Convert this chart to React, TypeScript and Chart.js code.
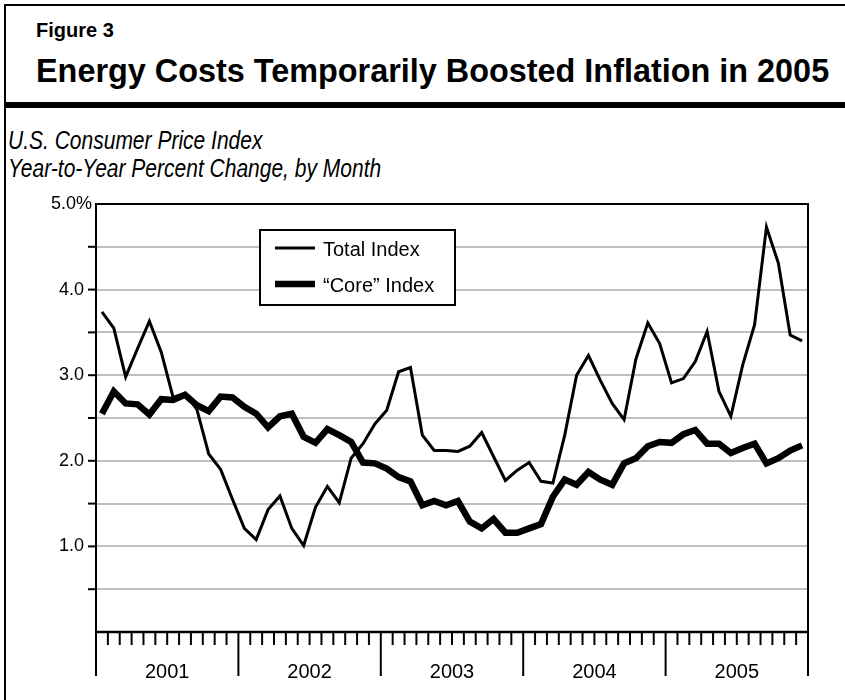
import React, { useEffect, useRef } from "react";
import { Chart, registerables } from "chart.js";

Chart.register(...registerables);

const years = ["2001", "2002", "2003", "2004", "2005"];
const monthNames = ["Jan", "Feb", "Mar", "Apr", "May", "Jun", "Jul", "Aug", "Sep", "Oct", "Nov", "Dec"];
const categories = years.flatMap((yr) => monthNames.map((m) => `${m} ${yr}`));

const totalIndex = [
  3.74, 3.55, 2.98, 3.31, 3.63, 3.27, 2.74, 2.79, 2.6, 2.08, 1.9, 1.55,
  1.21, 1.08, 1.43, 1.59, 1.21, 1.01, 1.46, 1.7, 1.51, 2.03, 2.2, 2.43,
  2.59, 3.04, 3.09, 2.3, 2.12, 2.12, 2.11, 2.17, 2.33, 2.05, 1.77, 1.89,
  1.98, 1.76, 1.74, 2.3, 3.0, 3.23, 2.94, 2.67, 2.48, 3.19, 3.61, 3.37,
  2.91, 2.96, 3.16, 3.51, 2.81, 2.52, 3.12, 3.59, 4.73, 4.31, 3.47, 3.4,
];

const coreIndex = [
  2.55, 2.81, 2.67, 2.66, 2.54, 2.72, 2.71, 2.77, 2.65, 2.58, 2.75, 2.74,
  2.63, 2.55, 2.39, 2.52, 2.55, 2.28, 2.21, 2.37, 2.3, 2.22, 1.98, 1.97,
  1.91, 1.81, 1.76, 1.48, 1.53, 1.48, 1.53, 1.29, 1.21, 1.32, 1.16, 1.16,
  1.21, 1.26, 1.58, 1.78, 1.72, 1.87, 1.78, 1.72, 1.97, 2.03, 2.17, 2.22,
  2.21, 2.31, 2.36, 2.2, 2.2, 2.09, 2.15, 2.2, 1.97, 2.03, 2.12, 2.18,
];

const yTickValues = [0.5, 1, 1.5, 2, 2.5, 3, 3.5, 4, 4.5];
const yLabelValues = [1, 2, 3, 4, 5];
const yLabelTexts = ["1.0", "2.0", "3.0", "4.0", "5.0%"];
const seriesLabels = ["Total Index", "\u201cCore\u201d Index"];

const FONT = "'Liberation Sans', Arial, Helvetica, sans-serif";
const CANVAS_TOP = 190;

const decorPlugin = {
  id: "decor",
  afterDraw(chart: any) {
    const { ctx, chartArea: a, scales } = chart;
    const x = scales.x;
    const y = scales.y;
    const longTick = 44;
    const shortTick = 13;
    ctx.save();
    ctx.strokeStyle = "#000";
    ctx.fillStyle = "#000";
    ctx.lineWidth = 2;
    ctx.lineCap = "butt";

    // plot frame
    ctx.beginPath();
    ctx.moveTo(a.left, a.bottom + longTick);
    ctx.lineTo(a.left, a.top);
    ctx.lineTo(a.right, a.top);
    ctx.lineTo(a.right, a.bottom + longTick);
    ctx.stroke();
    ctx.lineWidth = 2.5;
    ctx.beginPath();
    ctx.moveTo(a.left - 1, a.bottom);
    ctx.lineTo(a.right + 1, a.bottom);
    ctx.stroke();

    // y ticks
    ctx.lineWidth = 2;
    yTickValues.forEach((v) => {
      const py = y.getPixelForValue(v);
      ctx.beginPath();
      ctx.moveTo(a.left - 8, py);
      ctx.lineTo(a.left, py);
      ctx.stroke();
    });

    // y labels
    ctx.font = `18px ${FONT}`;
    ctx.textBaseline = "middle";
    ctx.textAlign = "right";
    yLabelValues.forEach((v, i) => {
      const py = y.getPixelForValue(v);
      const rx = v === 5 ? a.left - 4 : a.left - 12;
      ctx.fillText(yLabelTexts[i], rx, py);
    });

    // x ticks
    const n = categories.length;
    const step = x.getPixelForValue(1) - x.getPixelForValue(0);
    const boundary = (i: number) => x.getPixelForValue(i) - step / 2;
    for (let i = 1; i < n; i++) {
      if (i % 12 === 0) continue;
      const px = boundary(i);
      ctx.beginPath();
      ctx.moveTo(px, a.bottom);
      ctx.lineTo(px, a.bottom + shortTick);
      ctx.stroke();
    }
    for (let i = 12; i < n; i += 12) {
      const px = boundary(i);
      ctx.beginPath();
      ctx.moveTo(px, a.bottom);
      ctx.lineTo(px, a.bottom + longTick);
      ctx.stroke();
    }

    // year labels
    ctx.font = `20px ${FONT}`;
    ctx.textAlign = "center";
    ctx.textBaseline = "alphabetic";
    years.forEach((yr, k) => {
      const cx = (boundary(k * 12) + boundary(k * 12 + 12)) / 2;
      ctx.fillText(yr, cx, a.bottom + 46);
    });

    // legend
    const lx = 260;
    const ly = 230 - CANVAS_TOP;
    const lw = 195;
    const lh = 75;
    ctx.fillStyle = "#fff";
    ctx.fillRect(lx, ly, lw, lh);
    ctx.lineWidth = 2;
    ctx.strokeStyle = "#000";
    ctx.strokeRect(lx, ly, lw, lh);
    ctx.fillStyle = "#000";
    ctx.font = `20px ${FONT}`;
    ctx.textAlign = "left";
    ctx.textBaseline = "alphabetic";
    const rows = [18, 54];
    chart.data.datasets.forEach((ds: any, i: number) => {
      const ry = ly + rows[i];
      ctx.lineWidth = ds.borderWidth;
      ctx.beginPath();
      ctx.moveTo(lx + 15, ry);
      ctx.lineTo(lx + 55, ry);
      ctx.stroke();
      ctx.fillText(ds.label, lx + 63, ry + 8);
    });

    ctx.restore();
  },
};

export default function App() {
  const canvasRef = useRef<HTMLCanvasElement | null>(null);

  useEffect(() => {
    if (!canvasRef.current) return;
    const chart = new Chart(canvasRef.current, {
      type: "line",
      data: {
        labels: categories,
        datasets: [
          {
            label: seriesLabels[0],
            data: totalIndex,
            borderColor: "#000",
            borderWidth: 3,
            pointRadius: 0,
            tension: 0,
            borderJoinStyle: "miter",
            fill: false,
          },
          {
            label: seriesLabels[1],
            data: coreIndex,
            borderColor: "#000",
            borderWidth: 6.5,
            pointRadius: 0,
            tension: 0,
            borderJoinStyle: "miter",
            fill: false,
          },
        ],
      },
      options: {
        animation: false,
        responsive: false,
        devicePixelRatio: 1,
        layout: { padding: { left: 96, top: 14, right: 37, bottom: 68 } },
        plugins: {
          legend: { display: false },
          tooltip: { enabled: false },
          title: { display: false },
        },
        scales: {
          x: {
            type: "category",
            offset: true,
            grid: { display: false, drawTicks: false },
            border: { display: false },
            ticks: { display: false },
          },
          y: {
            min: 0,
            max: 5,
            grid: {
              drawTicks: false,
              lineWidth: 2,
              color: (c: any) =>
                c.tick && (c.tick.value === 0 || c.tick.value === 5) ? "rgba(0,0,0,0)" : "#bfbfbf",
            },
            border: { display: false },
            ticks: { display: false, stepSize: 0.5 },
          },
        },
      },
      plugins: [decorPlugin],
    });
    return () => chart.destroy();
  }, []);

  const base: React.CSSProperties = {
    position: "absolute",
    fontFamily: FONT,
    color: "#000",
    lineHeight: 1,
    whiteSpace: "nowrap",
    margin: 0,
  };

  return (
    <div
      style={{
        position: "absolute",
        left: 0,
        top: 0,
        width: 845,
        height: 700,
        background: "#fff",
        overflow: "hidden",
      }}
    >
      <div style={{ position: "absolute", left: 4, top: 4, width: 2, height: 696, background: "#000" }} />
      <div style={{ position: "absolute", left: 4, top: 4, width: 841, height: 2, background: "#000" }} />
      <div style={{ position: "absolute", left: 4, top: 102, width: 841, height: 6, background: "#000" }} />
      <div style={{ ...base, left: 36, top: 20, fontSize: 20, fontWeight: 700 }}>Figure 3</div>
      <div style={{ ...base, left: 36, top: 55, fontSize: 32.4, fontWeight: 700 }}>
        Energy Costs Temporarily Boosted Inflation in 2005
      </div>
      <div
        style={{
          ...base,
          left: 8,
          top: 128,
          fontSize: 25,
          fontStyle: "italic",
          transform: "scaleX(0.84)",
          transformOrigin: "0 0",
        }}
      >
        U.S. Consumer Price Index
      </div>
      <div
        style={{
          ...base,
          left: 8,
          top: 156,
          fontSize: 25,
          fontStyle: "italic",
          transform: "scaleX(0.84)",
          transformOrigin: "0 0",
        }}
      >
        Year-to-Year Percent Change, by Month
      </div>
      <canvas
        ref={canvasRef}
        width={845}
        height={510}
        style={{ position: "absolute", left: 0, top: CANVAS_TOP, width: 845, height: 510 }}
      />
    </div>
  );
}
